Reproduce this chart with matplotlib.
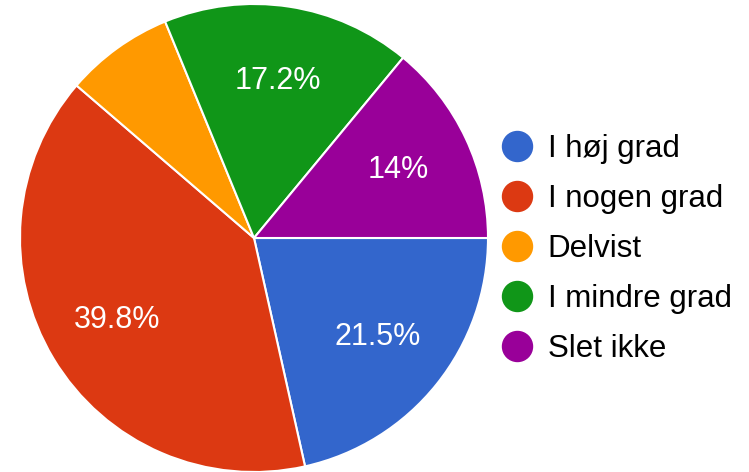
import matplotlib.pyplot as plt
from matplotlib.lines import Line2D

plt.rcParams['font.family'] = ['Liberation Sans', 'DejaVu Sans']

labels = ["I høj grad", "I nogen grad", "Delvist", "I mindre grad", "Slet ikke"]
shares = [21.5, 39.8, 7.5, 17.2, 14.0]
colors = ["#3366cc", "#dc3912", "#ff9900", "#109618", "#990099"]


def pct_label(p):
    # google hides labels on small slices
    if p < 10:
        return ""
    return f"{p:.1f}%".replace(".0%", "%")


fig = plt.figure(figsize=(7.49, 4.72), dpi=100)
ax = fig.add_axes([20 / 749, 0.0, 468 / 749, 468 / 472])

wedges, texts, autotexts = ax.pie(
    shares, colors=colors, startangle=0, counterclock=False,
    autopct=pct_label, pctdistance=0.68,
    wedgeprops=dict(edgecolor="white", linewidth=1.5),
    textprops=dict(color="white", fontsize=22),
)
ax.set_xlim(-1, 1)
ax.set_ylim(-1, 1)
ax.set_aspect("equal")

handles = [Line2D([], [], marker="o", linestyle="", markersize=21.6,
                  markerfacecolor=c, markeredgecolor=c) for c in colors]
fig.legend(handles, labels, loc="center left",
           bbox_to_anchor=(502 / 749, 223 / 472),
           frameon=False, fontsize=22.5, handlelength=0.98, handletextpad=0.48,
           labelspacing=0.64, borderpad=0, borderaxespad=0)

fig.savefig("out.png", dpi=100)
